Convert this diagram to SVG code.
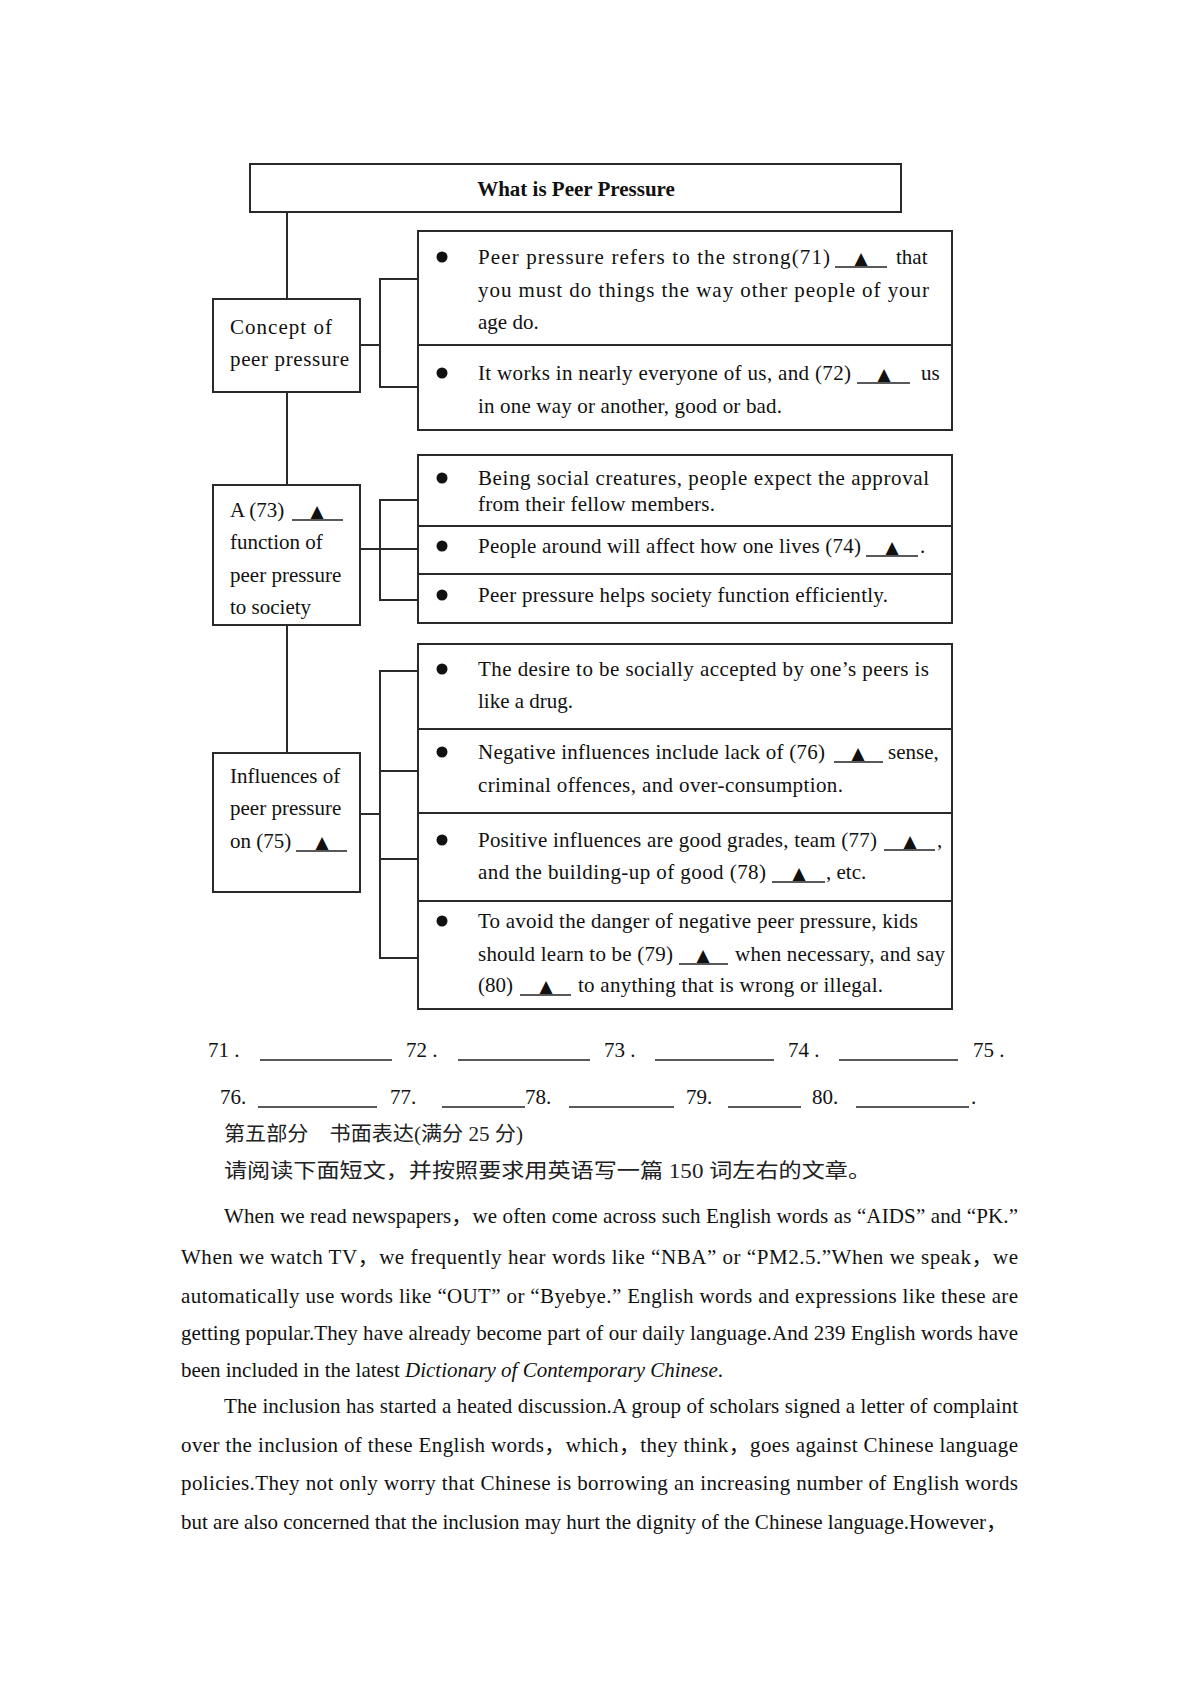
<svg xmlns="http://www.w3.org/2000/svg" width="1200" height="1698" viewBox="0 0 1200 1698">
<style>
.bx{fill:none;stroke:#2a2a2a;stroke-width:2}
.ln{stroke:#2a2a2a;stroke-width:2;fill:none}
.ul{stroke:#222;stroke-width:1.6}
.t{font-family:"Liberation Serif","Noto Sans CJK SC",serif;font-size:21px;fill:#111}
.b{font-weight:bold}
.tri{font-family:"DejaVu Sans",sans-serif;font-size:17px;fill:#111;text-anchor:middle}
.cn{font-family:"Liberation Serif","Noto Sans CJK SC",serif;font-size:20px;fill:#222}
.dot{fill:#111}
</style>
<rect width="1200" height="1698" fill="#fff"/>

<g id="connectors">
  <line class="ln" x1="287" y1="212" x2="287" y2="299"/>
  <line class="ln" x1="287" y1="392" x2="287" y2="485"/>
  <line class="ln" x1="287" y1="625" x2="287" y2="753"/>
  <line class="ln" x1="360" y1="345" x2="380" y2="345"/>
  <polyline class="ln" points="418,279 380,279 380,387 418,387"/>
  <line class="ln" x1="360" y1="549" x2="418" y2="549"/>
  <polyline class="ln" points="418,500 380,500 380,600 418,600"/>
  <line class="ln" x1="360" y1="814" x2="380" y2="814"/>
  <polyline class="ln" points="418,671 380,671 380,958 418,958"/>
  <line class="ln" x1="380" y1="771" x2="418" y2="771"/>
  <line class="ln" x1="380" y1="859" x2="418" y2="859"/>
</g>

<g id="title">
  <rect class="bx" x="250" y="164" width="651" height="48"/>
  <text class="t b" x="576" y="196" text-anchor="middle" font-size="20">What is Peer Pressure</text>
</g>

<g id="concept">
  <rect class="bx" x="213" y="299" width="147" height="93"/>
  <text class="t" x="230" y="334" textLength="102" lengthAdjust="spacing">Concept of</text>
  <text class="t" x="230" y="366" textLength="119" lengthAdjust="spacing">peer pressure</text>
</g>

<g id="function">
  <rect class="bx" x="213" y="485" width="147" height="140"/>
  <text class="t" x="230" y="517">A (73)</text>
  <line class="ul" x1="292" y1="520" x2="343" y2="520"/>
  <text class="tri" x="317" y="517">▲</text>
  <text class="t" x="230" y="549">function of</text>
  <text class="t" x="230" y="582">peer pressure</text>
  <text class="t" x="230" y="614">to society</text>
</g>

<g id="influences">
  <rect class="bx" x="213" y="753" width="147" height="139"/>
  <text class="t" x="230" y="783">Influences of</text>
  <text class="t" x="230" y="815">peer pressure</text>
  <text class="t" x="230" y="848">on (75)</text>
  <line class="ul" x1="296" y1="851" x2="347" y2="851"/>
  <text class="tri" x="322" y="848">▲</text>
</g>

<g id="item71">
  <rect class="bx" x="418" y="231" width="534" height="114"/>
  <circle class="dot" cx="442" cy="257" r="5.5"/>
  <text class="t" x="478" y="264" textLength="352" lengthAdjust="spacing">Peer pressure refers to the strong(71)</text>
  <line class="ul" x1="835" y1="267" x2="887" y2="267"/>
  <text class="tri" x="861" y="264">▲</text>
  <text class="t" x="896" y="264">that</text>
  <text class="t" x="478" y="297" textLength="451" lengthAdjust="spacing">you must do things the way other people of your</text>
  <text class="t" x="478" y="329">age do.</text>
</g>

<g id="item72">
  <rect class="bx" x="418" y="345" width="534" height="85"/>
  <circle class="dot" cx="442" cy="373" r="5.5"/>
  <text class="t" x="478" y="380" textLength="373" lengthAdjust="spacing">It works in nearly everyone of us, and (72)</text>
  <line class="ul" x1="857" y1="383" x2="910" y2="383"/>
  <text class="tri" x="884" y="380">▲</text>
  <text class="t" x="921" y="380">us</text>
  <text class="t" x="478" y="413" textLength="304" lengthAdjust="spacing">in one way or another, good or bad.</text>
</g>

<g id="item-approval">
  <rect class="bx" x="418" y="455" width="534" height="71"/>
  <circle class="dot" cx="442" cy="478" r="5.5"/>
  <text class="t" x="478" y="485" textLength="451" lengthAdjust="spacing">Being social creatures, people expect the approval</text>
  <text class="t" x="478" y="511" textLength="237" lengthAdjust="spacing">from their fellow members.</text>
</g>

<g id="item74">
  <rect class="bx" x="418" y="526" width="534" height="48"/>
  <circle class="dot" cx="442" cy="546" r="5.5"/>
  <text class="t" x="478" y="553" textLength="383" lengthAdjust="spacing">People around will affect how one lives (74)</text>
  <line class="ul" x1="866" y1="556" x2="918" y2="556"/>
  <text class="tri" x="892" y="553">▲</text>
  <text class="t" x="920" y="553">.</text>
</g>

<g id="item-efficient">
  <rect class="bx" x="418" y="574" width="534" height="49"/>
  <circle class="dot" cx="442" cy="595" r="5.5"/>
  <text class="t" x="478" y="602" textLength="410" lengthAdjust="spacing">Peer pressure helps society function efficiently.</text>
</g>

<g id="item-drug">
  <rect class="bx" x="418" y="644" width="534" height="85"/>
  <circle class="dot" cx="442" cy="669" r="5.5"/>
  <text class="t" x="478" y="676" textLength="451" lengthAdjust="spacing">The desire to be socially accepted by one’s peers is</text>
  <text class="t" x="478" y="708">like a drug.</text>
</g>

<g id="item76">
  <rect class="bx" x="418" y="729" width="534" height="84"/>
  <circle class="dot" cx="442" cy="752" r="5.5"/>
  <text class="t" x="478" y="759" textLength="347" lengthAdjust="spacing">Negative influences include lack of (76)</text>
  <line class="ul" x1="834" y1="762" x2="883" y2="762"/>
  <text class="tri" x="858" y="759">▲</text>
  <text class="t" x="888" y="759">sense,</text>
  <text class="t" x="478" y="792" textLength="365" lengthAdjust="spacing">criminal offences, and over-consumption.</text>
</g>

<g id="item77">
  <rect class="bx" x="418" y="813" width="534" height="88"/>
  <circle class="dot" cx="442" cy="840" r="5.5"/>
  <text class="t" x="478" y="847" textLength="399" lengthAdjust="spacing">Positive influences are good grades, team (77)</text>
  <line class="ul" x1="884" y1="850" x2="935" y2="850"/>
  <text class="tri" x="910" y="847">▲</text>
  <text class="t" x="937" y="847">,</text>
  <text class="t" x="478" y="879" textLength="288" lengthAdjust="spacing">and the building-up of good (78)</text>
  <line class="ul" x1="772" y1="882" x2="825" y2="882"/>
  <text class="tri" x="799" y="879">▲</text>
  <text class="t" x="826" y="879">, etc.</text>
</g>

<g id="item79">
  <rect class="bx" x="418" y="901" width="534" height="108"/>
  <circle class="dot" cx="442" cy="921" r="5.5"/>
  <text class="t" x="478" y="928" textLength="440" lengthAdjust="spacing">To avoid the danger of negative peer pressure, kids</text>
  <text class="t" x="478" y="961" textLength="195" lengthAdjust="spacing">should learn to be (79)</text>
  <line class="ul" x1="679" y1="964" x2="728" y2="964"/>
  <text class="tri" x="703" y="961">▲</text>
  <text class="t" x="735" y="961" textLength="210" lengthAdjust="spacing">when necessary, and say</text>
  <text class="t" x="478" y="992">(80)</text>
  <line class="ul" x1="520" y1="995" x2="571" y2="995"/>
  <text class="tri" x="546" y="992">▲</text>
  <text class="t" x="578" y="992" textLength="305" lengthAdjust="spacing">to anything that is wrong or illegal.</text>
</g>

<g id="answers">
  <text class="t" x="208" y="1057">71 .</text>
  <line class="ul" x1="260" y1="1060" x2="392" y2="1060"/>
  <text class="t" x="406" y="1057">72 .</text>
  <line class="ul" x1="458" y1="1060" x2="590" y2="1060"/>
  <text class="t" x="604" y="1057">73 .</text>
  <line class="ul" x1="655" y1="1060" x2="774" y2="1060"/>
  <text class="t" x="788" y="1057">74 .</text>
  <line class="ul" x1="839" y1="1060" x2="958" y2="1060"/>
  <text class="t" x="973" y="1057">75 .</text>

  <text class="t" x="220" y="1104">76.</text>
  <line class="ul" x1="258" y1="1107" x2="377" y2="1107"/>
  <text class="t" x="390" y="1104">77.</text>
  <line class="ul" x1="442" y1="1107" x2="525" y2="1107"/>
  <text class="t" x="525" y="1104">78.</text>
  <line class="ul" x1="569" y1="1107" x2="674" y2="1107"/>
  <text class="t" x="686" y="1104">79.</text>
  <line class="ul" x1="728" y1="1107" x2="801" y2="1107"/>
  <text class="t" x="812" y="1104">80.</text>
  <line class="ul" x1="856" y1="1107" x2="969" y2="1107"/>
  <text class="t" x="971" y="1104">.</text>
</g>

<g id="passage">
  <text class="cn" x="224" y="1141" textLength="299" lengthAdjust="spacingAndGlyphs">第五部分　书面表达(满分 25 分)</text>
  <text class="cn" x="224" y="1178" textLength="647" lengthAdjust="spacingAndGlyphs">请阅读下面短文，并按照要求用英语写一篇 150 词左右的文章。</text>

  <text class="t" x="224" y="1223" textLength="794" lengthAdjust="spacing">When we read newspapers，we often come across such English words as “AIDS” and “PK.”</text>
  <text class="t" x="181" y="1264" textLength="837" lengthAdjust="spacing">When we watch TV，we frequently hear words like “NBA” or “PM2.5.”When we speak，we</text>
  <text class="t" x="181" y="1303" textLength="837" lengthAdjust="spacing">automatically use words like “OUT” or “Byebye.” English words and expressions like these are</text>
  <text class="t" x="181" y="1340" textLength="837" lengthAdjust="spacing">getting popular.They have already become part of our daily language.And 239 English words have</text>
  <text class="t" x="181" y="1377" textLength="542" lengthAdjust="spacing">been included in the latest <tspan font-style="italic">Dictionary of Contemporary Chinese</tspan>.</text>
  <text class="t" x="224" y="1413" textLength="794" lengthAdjust="spacing">The inclusion has started a heated discussion.A group of scholars signed a letter of complaint</text>
  <text class="t" x="181" y="1452" textLength="837" lengthAdjust="spacing">over the inclusion of these English words，which，they think，goes against Chinese language</text>
  <text class="t" x="181" y="1490" textLength="837" lengthAdjust="spacing">policies.They not only worry that Chinese is borrowing an increasing number of English words</text>
  <text class="t" x="181" y="1529" textLength="826" lengthAdjust="spacing">but are also concerned that the inclusion may hurt the dignity of the Chinese language.However，</text>
</g>
</svg>
